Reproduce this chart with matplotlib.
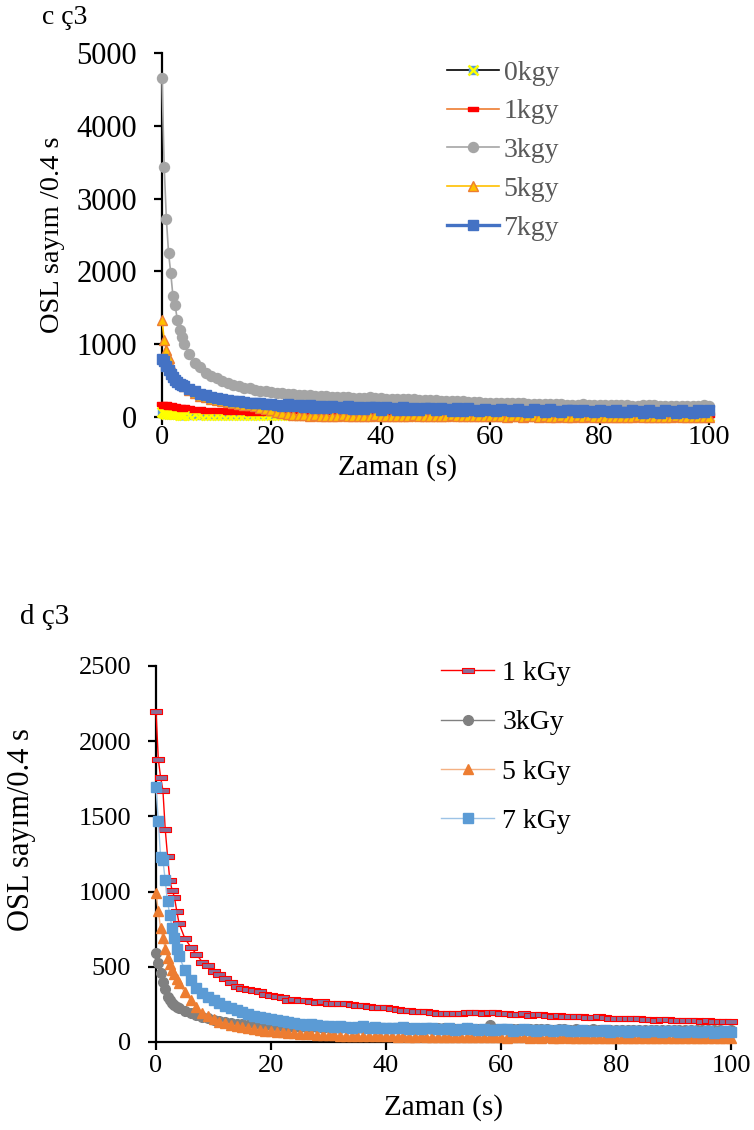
import numpy as np
import matplotlib
matplotlib.use("Agg")
import matplotlib.pyplot as plt

plt.rcParams['font.family'] = ['Liberation Serif', 'DejaVu Serif']

# sampling times (s), shared by both panels
t = [0, 0.4, 0.8, 1.2, 1.6, 2.0, 2.4, 2.8, 3.2, 3.6, 4.0,
     5, 6, 7, 8, 9, 10, 11, 12, 13, 14,
     15, 16, 17, 18, 19, 20, 21, 22, 23, 24,
     25, 26, 27, 28, 29, 30, 31, 32, 33, 34,
     35, 36, 37, 38, 39, 40, 41, 42, 43, 44,
     45, 46, 47, 48, 49, 50, 51, 52, 53, 54,
     55, 56, 57, 58, 59, 60, 61, 62, 63, 64,
     65, 66, 67, 68, 69, 70, 71, 72, 73, 74,
     75, 76, 77, 78, 79, 80, 81, 82, 83, 84,
     85, 86, 87, 88, 89, 90, 91, 92, 93, 94,
     95, 96, 97, 98, 99, 100]

# panel c: OSL counts per dose
c_0kgy = [70, 55, 48, 44, 40, 38, 36, 35, 34, 33, 32,
          30, 36, 28, 34, 27, 33, 26, 32, 25, 31,
          25, 30, 24, 30, 24, 29, 23, 29, 23, 28,
          22, 28, 22, 27, 22, 27, 21, 27, 21, 26,
          21, 26, 20, 26, 20, 25, 20, 25, 20, 25,
          19, 25, 19, 24, 19, 24, 19, 24, 18, 24,
          18, 23, 18, 23, 18, 23, 18, 23, 17, 22,
          17, 22, 17, 22, 17, 22, 17, 21, 16, 21,
          16, 21, 16, 21, 16, 21, 16, 20, 16, 20,
          15, 20, 15, 20, 15, 20, 15, 19, 15, 19,
          15, 19, 15, 19, 14, 19]
c_1kgy = [180, 152, 172, 144, 164, 134, 152, 122, 142, 114, 132,
          122, 96, 110, 86, 100, 76, 92, 70, 86, 66,
          80, 60, 76, 56, 72, 52, 68, 48, 64, 46,
          60, 44, 56, 42, 54, 40, 52, 39, 50, 38,
          48, 37, 47, 36, 46, 35, 45, 34, 44, 34,
          43, 33, 42, 33, 41, 32, 40, 31, 39, 31,
          38, 30, 37, 30, 36, 29, 36, 29, 35, 28,
          34, 28, 34, 28, 33, 27, 33, 27, 32, 27,
          32, 26, 31, 26, 31, 26, 30, 25, 30, 25,
          29, 25, 29, 25, 29, 24, 28, 24, 28, 24,
          28, 24, 27, 23, 27, 23]
c_3kgy = [4660, 3440, 2720, 2250, 1980, 1660, 1540, 1330, 1200, 1100, 1000,
          860, 745, 680, 610, 570, 530, 492, 470, 440, 422,
          405, 392, 376, 362, 356, 346, 336, 330, 322, 318,
          306, 300, 297, 291, 286, 282, 279, 276, 274, 271,
          266, 263, 265, 268, 260, 256, 252, 250, 251, 247,
          243, 241, 238, 236, 233, 231, 226, 222, 218, 215,
          213, 210, 205, 201, 199, 196, 193, 190, 187, 186,
          189, 188, 181, 179, 176, 178, 180, 175, 172, 170,
          169, 171, 173, 168, 165, 163, 161, 163, 164, 160,
          158, 157, 156, 159, 161, 158, 152, 151, 150, 153,
          157, 152, 149, 151, 158, 155]
c_5kgy = [1330, 1060, 920, 810, 700, 620, 565, 525, 485, 450, 425,
          370, 330, 295, 270, 250, 235, 220, 205, 190, 180,
          170, 158, 146, 130, 110, 90, 70, 52, 40, 32,
          26, 22, 20, 30, 18, 16, 15, 14, 26, 13,
          12, 14, 11, 10, 24, 12, 10, 9, 11, 10,
          9, 22, 10, 8, 9, 10, 8, 9, 21, 8,
          7, 9, 8, 7, 8, 20, 7, 8, 6, 7,
          8, 6, 7, 19, 6, 7, 5, 6, 7, 5,
          6, 7, 5, 18, 6, 5, 6, 4, 5, 6,
          4, 5, 17, 4, 5, 6, 4, 5, 4, 16,
          5, 4, 5, 4, 5, 4]
c_7kgy = [800, 770, 705, 640, 590, 545, 510, 485, 460, 440, 425,
          390, 352, 322, 296, 276, 262, 246, 234, 222, 214,
          205, 198, 190, 186, 180, 176, 168, 152, 178, 146,
          165, 136, 160, 130, 154, 126, 148, 140, 118, 150,
          112, 144, 108, 132, 140, 102, 137, 120, 96, 134,
          100, 128, 94, 118, 126, 90, 124, 104, 88, 121,
          86, 117, 98, 82, 114, 92, 78, 111, 100, 76,
          108, 84, 73, 106, 95, 70, 104, 86, 68, 101,
          90, 66, 99, 80, 64, 97, 88, 63, 96, 75,
          62, 95, 84, 61, 94, 72, 60, 93, 82, 59,
          92, 70, 58, 91, 66, 90]

# panel d: OSL counts per dose
d_1kgy = [2200, 1880, 1760, 1675, 1416, 1240, 1077, 1010, 964, 873, 790,
          690, 634, 585, 534, 512, 470, 452, 425, 400, 372,
          358, 352, 345, 336, 322, 312, 305, 296, 282, 285,
          278, 282, 270, 268, 272, 262, 260, 258, 262, 255,
          248, 244, 240, 236, 232, 230, 228, 222, 215, 210,
          205, 206, 208, 200, 196, 194, 192, 190, 191, 198,
          202, 200, 196, 198, 200, 195, 190, 186, 188, 190,
          182, 184, 185, 180, 176, 178, 172, 170, 172, 170,
          166, 168, 170, 168, 162, 160, 158, 160, 162, 160,
          152, 150, 148, 152, 150, 148, 146, 148, 144, 146,
          142, 144, 140, 142, 140, 138]
d_3kgy = [590, 525, 458, 401, 350, 301, 278, 259, 248, 236, 226,
          205, 193, 178, 168, 158, 146, 140, 132, 126, 122,
          118, 115, 112, 110, 108, 106, 105, 103, 101, 100,
          102, 98, 99, 97, 96, 98, 95, 96, 97, 94,
          95, 92, 94, 93, 95, 91, 93, 92, 90, 92,
          89, 91, 90, 88, 92, 90, 88, 89, 87, 90,
          88, 86, 89, 110, 88, 87, 89, 86, 88, 85,
          87, 84, 86, 85, 83, 86, 84, 82, 85, 83,
          81, 84, 82, 80, 83, 81, 80, 82, 79, 81,
          80, 78, 81, 79, 80, 78, 79, 77, 80, 78,
          79, 77, 78, 80, 76, 78]
d_5kgy = [990, 870, 758, 690, 620, 560, 520, 480, 450, 420, 390,
          330, 280, 232, 196, 170, 150, 135, 125, 115, 105,
          98, 92, 86, 80, 76, 72, 68, 64, 60, 58,
          55, 52, 50, 48, 46, 45, 44, 43, 42, 41,
          40, 41, 39, 38, 40, 37, 38, 36, 39, 35,
          36, 37, 34, 36, 33, 35, 34, 32, 35, 33,
          31, 34, 32, 30, 33, 31, 29, 32, 30, 31,
          29, 30, 28, 31, 29, 27, 30, 28, 29, 27,
          28, 26, 29, 27, 28, 26, 27, 28, 25, 27,
          26, 28, 25, 27, 26, 24, 27, 25, 26, 24,
          26, 25, 24, 26, 25, 24]
d_7kgy = [1697, 1470, 1232, 1210, 1077, 935, 844, 758, 690, 620, 570,
          480, 410, 362, 328, 300, 278, 258, 240, 224, 212,
          198, 186, 175, 166, 158, 150, 145, 138, 133, 128,
          121, 116, 118, 110, 108, 105, 102, 108, 100, 96,
          100, 104, 94, 98, 92, 96, 90, 95, 97, 88,
          92, 86, 90, 94, 84, 88, 91, 82, 86, 90,
          84, 80, 88, 82, 78, 86, 84, 76, 80, 85,
          78, 74, 82, 80, 72, 77, 81, 74, 70, 79,
          76, 70, 74, 78, 69, 72, 76, 68, 73, 75,
          67, 71, 74, 66, 70, 73, 65, 69, 72, 64,
          68, 71, 63, 67, 70, 66]

c_labels = ["0kgy", "1kgy", "3kgy", "5kgy", "7kgy"]
d_labels = ["1 kGy", "3kGy", "5 kGy", "7 kGy"]

# flat rectangle marker used for the 1 kGy series
bar_marker = [(-1, -0.4), (1, -0.4), (1, 0.4), (-1, 0.4), (-1, -0.4)]


def style_axes(ax, ymax, ystep, xfs, yfs):
    ax.set_xlim(0, 100)
    ax.set_ylim(0, ymax)
    ax.set_xticks(range(0, 101, 20))
    ax.set_yticks(range(0, ymax + 1, ystep))
    for side in ("top", "right"):
        ax.spines[side].set_visible(False)
    for side in ("left", "bottom"):
        ax.spines[side].set_linewidth(1.6)
        ax.spines[side].set_zorder(0.5)
    ax.tick_params(direction="out", length=6, width=1.6)
    ax.tick_params(axis="x", pad=0, labelsize=xfs)
    ax.tick_params(axis="y", pad=12, labelsize=yfs)


fig = plt.figure(figsize=(7.54, 11.3), dpi=100)

# ---- panel c ----
ax1 = fig.add_axes([162 / 754, 1 - 417 / 1130, 547 / 754, 364 / 1130])
h0a, = ax1.plot(t, c_0kgy, color="black", lw=1.2, marker="s", ms=6,
                mfc="#5B9BD5", mec="#5B9BD5", clip_on=False)
h0b, = ax1.plot(t, c_0kgy, ls="none", marker="x", ms=6.5, mew=1.8,
                color="#FFFF00", clip_on=False)
h1, = ax1.plot(t, c_1kgy, color="#ED7D31", lw=1.2, marker=bar_marker, ms=7.5,
               mfc="#FF0000", mec="#FF0000", clip_on=False)
h3, = ax1.plot(t, c_3kgy, color="#A5A5A5", lw=1.2, marker="o", ms=7.2,
               mfc="#A5A5A5", mec="#A5A5A5", clip_on=False)
h5, = ax1.plot(t, c_5kgy, color="#FFC000", lw=1.2, marker="^", ms=7,
               mfc="#FFC000", mec="#ED7D31", mew=1.0, clip_on=False)
h7, = ax1.plot(t, c_7kgy, color="#4472C4", lw=2.4, marker="s", ms=7.5,
               mfc="#4472C4", mec="#4472C4", clip_on=False)
style_axes(ax1, 5000, 1000, 20.5, 22)
ax1.text((398 - 162) / 547, -(468 - 417) / 364, "Zaman (s)", fontsize=21,
         ha="center", va="center", transform=ax1.transAxes)
ax1.text((53 - 162) / 547, 0.5, "OSL sayım /0.4 s", fontsize=20.5,
         rotation=90, ha="center", va="center", transform=ax1.transAxes)
leg1 = ax1.legend([(h0a, h0b), h1, h3, h5, h7], c_labels,
                  loc="upper left", bbox_to_anchor=(0.50, 1.011),
                  frameon=False, fontsize=20, handlelength=1.9,
                  handletextpad=0.15, labelspacing=0.48, borderaxespad=0)
for txt in leg1.get_texts():
    txt.set_color("#595959")
fig.text(42 / 754, 1 - 17 / 1130, "c ç3", fontsize=20, va="center", ha="left")

# ---- panel d ----
ax2 = fig.add_axes([156 / 754, 1 - 1042 / 1130, 575 / 754, 376 / 1130])
g1, = ax2.plot(t, d_1kgy, color="#FF0000", lw=1.0, marker=bar_marker, ms=9,
               mfc="#8A6F99", mec="#FF0000", mew=0.8, clip_on=False)
g3, = ax2.plot(t, d_3kgy, color="#808080", lw=1.0, marker="o", ms=7,
               mfc="#808080", mec="#808080", clip_on=False)
g5, = ax2.plot(t, d_5kgy, color="#F4B183", lw=1.0, marker="^", ms=7.5,
               mfc="#ED7D31", mec="#ED7D31", clip_on=False)
g7, = ax2.plot(t, d_7kgy, color="#9DC3E6", lw=1.0, marker="s", ms=7.5,
               mfc="#5B9BD5", mec="#5B9BD5", clip_on=False)
style_axes(ax2, 2500, 500, 19, 19)
ax2.tick_params(axis="x", pad=3)
ax2.text(0.5, -(1108 - 1042) / 376, "Zaman (s)", fontsize=21,
         ha="center", va="center", transform=ax2.transAxes)
ax2.text((22 - 156) / 575, (1042 - 830) / 376, "OSL sayım/0.4 s", fontsize=22,
         rotation=90, ha="center", va="center", transform=ax2.transAxes)
ax2.legend([g1, g3, g5, g7], d_labels,
           loc="upper left", bbox_to_anchor=(0.477, 1.044),
           frameon=False, fontsize=20, handlelength=1.9,
           handletextpad=0.3, labelspacing=0.86, borderaxespad=0)
fig.text(20 / 754, 1 - 617 / 1130, "d ç3", fontsize=21, va="center", ha="left")

fig.savefig("out.png", dpi=100)
